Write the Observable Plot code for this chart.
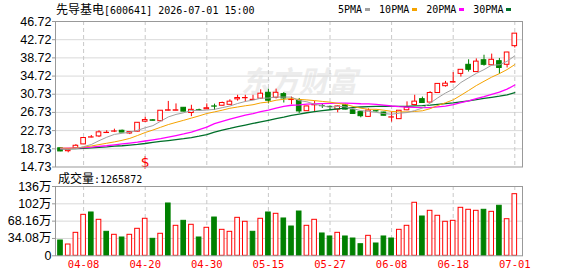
<!DOCTYPE html>
<html><head><meta charset="utf-8">
<script src="https://cdn.jsdelivr.net/npm/d3@7"></script>
<script src="https://cdn.jsdelivr.net/npm/@observablehq/plot@0.6"></script>
<style>
html,body{margin:0;padding:0;background:#fff;}
#wrap{position:relative;width:578px;height:276px;overflow:hidden;background:#fff;}
.abs{position:absolute;white-space:nowrap;}
.cjk{font-family:"Noto Sans CJK SC";font-size:12px;color:#000;}
.mono{font-family:"DejaVu Sans Mono";font-size:10px;color:#000;}
#legend{display:flex;align-items:center;}
#legend .item{display:flex;align-items:center;margin-right:9px;}
#legend .sw{width:5px;height:3px;margin-left:3px;}
svg{overflow:visible;}
</style></head><body>
<div id="wrap">
  <div id="price" class="abs" style="left:0;top:0"></div>
  <div id="vol" class="abs" style="left:0;top:170px"></div>
  <div id="title" class="abs" style="left:56px;top:0px;line-height:17px"></div>
  <div id="legend" class="abs" style="left:338px;top:1px;height:16px"></div>
  <div id="volTitle" class="abs" style="left:58px;top:169px;line-height:17px"></div>
</div>
<script>
// ---------- data ----------
const stockName = "先导基电";
const stockInfo = "[600641] 2026-07-01 15:00";
const volName = "成交量";
const volInfo = ":1265872";

const dates = ["04-02","04-03","04-07","04-08","04-09","04-10","04-13","04-14","04-15","04-16","04-17","04-20","04-21","04-22","04-23","04-24","04-27","04-28","04-29","04-30",
"05-06","05-07","05-08","05-11","05-12","05-13","05-14","05-15","05-18","05-19","05-20","05-21","05-22","05-25","05-26","05-27","05-28","05-29",
"06-01","06-02","06-03","06-04","06-05","06-08","06-09","06-10","06-11","06-12","06-15","06-16","06-17","06-18","06-22","06-23","06-24","06-25","06-26","06-29","06-30","07-01"];

const open  = [18.85,18.2,18.8,19.7,21.2,21.45,22.2,22.5,22.7,22.1,22.5,24.7,25.0,24.8,27.1,27.1,27.75,26.6,27.2,27.4,28.05,28.2,28.4,29.6,29.85,29.45,29.75,31.05,29.95,30.75,29.45,29.35,27.0,28.3,28.15,27.95,27.35,28.3,27.2,26.8,25.75,27.0,26.7,25.6,25.25,27.2,28.35,29.65,28.9,31.0,32.5,33.3,35.2,37.2,35.6,38.2,37.1,38.0,37.2,41.3];
const high  = [18.9,18.5,19.65,21.15,21.65,22.7,22.7,23.05,22.85,22.45,24.5,25.7,25.15,27.15,29.15,28.6,27.8,28.3,27.45,28.6,28.55,29.0,29.5,30.5,30.5,30.5,31.7,31.85,31.85,31.1,30.1,29.8,28.1,29.2,28.5,28.1,28.2,28.5,27.3,26.9,27.5,27.2,26.8,26.8,27.15,29.05,30.5,30.1,31.3,33.05,33.55,35.5,36.15,38.3,38.5,39.3,39.55,38.6,39.95,44.1];
const low   = [18.1,17.85,18.75,19.65,21.15,21.2,22.15,22.3,22.25,21.85,22.45,24.55,24.85,24.75,27.05,27.05,26.85,25.8,26.95,27.35,27.16,28.15,28.35,29.2,29.0,29.4,29.7,28.6,29.7,28.8,28.4,26.5,26.95,26.8,27.6,27.15,26.65,27.3,26.35,25.55,25.7,26.8,25.95,24.6,25.2,27.1,28.3,28.75,28.85,30.95,32.3,33.2,34.5,35.6,35.55,36.9,37.0,35.1,36.5,40.9];
const close = [18.15,18.45,19.4,21.1,21.25,22.35,22.25,22.55,22.3,22.4,24.45,25.05,24.9,27.1,27.2,27.2,26.9,27.3,27.15,27.65,28.0,28.8,29.1,29.9,29.9,29.5,30.85,29.3,31.05,29.8,29.5,26.95,28.05,28.35,28.1,27.9,28.05,27.35,26.4,25.9,27.15,26.95,26.0,25.65,27.1,27.8,29.1,28.8,31.0,33.0,33.05,33.4,36.1,36.1,37.9,37.2,38.3,36.5,39.9,44.05];

const ma5  = [18.7,18.6,18.75,19.2,19.67,20.51,21.27,21.9,22.14,22.37,22.79,23.35,23.82,24.78,25.74,26.29,26.66,27.14,27.15,27.24,27.4,27.78,28.14,28.69,29.14,29.44,29.85,29.89,30.12,30.1,30.1,29.32,29.07,28.53,28.19,27.87,28.09,27.95,27.56,27.12,26.97,26.75,26.48,26.33,26.57,26.7,27.13,27.69,28.76,29.94,30.99,31.85,33.31,34.33,35.31,36.14,37.12,37.2,37.96,39.19];
const ma10 = [18.9,18.85,18.9,19.1,19.35,19.65,19.95,20.25,20.6,21.02,21.65,22.31,22.86,23.46,24.06,24.54,25.0,25.48,25.97,26.49,26.85,27.22,27.64,27.92,28.19,28.42,28.82,29.02,29.41,29.62,29.77,29.59,29.48,29.33,29.15,28.99,28.71,28.51,28.05,27.66,27.42,27.42,27.22,26.95,26.85,26.84,26.94,27.09,27.55,28.26,28.85,29.49,30.5,31.55,32.63,33.57,34.49,35.26,36.15,37.25];
const ma20 = [18.8,18.85,18.9,19.0,19.1,19.25,19.4,19.6,19.8,20.0,20.2,20.45,20.7,20.95,21.3,21.65,22.0,22.4,22.95,23.5,24.25,24.77,25.25,25.69,26.12,26.48,26.91,27.25,27.69,28.06,28.31,28.4,28.56,28.62,28.67,28.7,28.76,28.76,28.73,28.64,28.6,28.5,28.35,28.14,28.0,27.91,27.82,27.8,27.8,27.96,28.13,28.46,28.86,29.25,29.74,30.2,30.71,31.17,31.85,32.75];
const ma30 = [18.7,18.75,18.8,18.85,18.95,19.05,19.15,19.3,19.4,19.55,19.7,19.9,20.15,20.35,20.55,20.75,20.95,21.2,21.5,21.85,22.4,22.85,23.2,23.6,23.95,24.3,24.65,25.0,25.35,25.7,26.09,26.37,26.66,26.9,27.13,27.32,27.51,27.67,27.81,27.92,28.01,28.08,28.11,28.07,28.06,28.08,28.16,28.21,28.34,28.51,28.68,28.83,29.07,29.28,29.54,29.8,30.05,30.29,30.58,31.06];

// volume in 万 shares; volUp: 1 = red (up), 0 = green (down)
const volume = [30.1,22.2,45.2,80.6,85.2,70.8,47.2,41.3,36.0,41.3,53.1,72.8,33.4,43.3,102.9,59.0,68.8,61.0,36.0,55.1,75.3,51.1,47.2,74.7,66.9,47.2,72.8,85.2,82.6,73.4,57.6,87.1,59.0,70.8,43.9,38.0,45.2,38.0,34.0,22.8,39.3,24.2,38.0,34.0,51.1,59.0,104.3,77.3,88.5,78.7,66.9,68.8,94.4,90.5,88.5,90.5,86.5,98.4,72.0,121.2];
const volUp  = [0,1,1,1,0,1,0,1,0,1,1,1,0,1,0,1,0,1,0,1,0,1,1,1,1,0,1,0,1,0,0,0,1,1,0,0,1,0,0,0,1,0,0,0,1,1,1,0,1,1,1,1,1,1,1,0,1,0,1,1];

const priceTicks = [14.73,18.73,22.73,26.73,30.73,34.72,38.72,42.72,46.72];
const volTicks = [0,34.08,68.16,102.24,136.32];
const volTickLabels = ["0","34.08万","68.16万","102万","136万"];
const xTickLabels = ["04-08","04-20","04-30","05-15","05-27","06-08","06-18","07-01"];

const maNames = ["5PMA","10PMA","20PMA","30PMA"];
const maColors = ["#a0a0a0","#f5a300","#ff00ff","#00702a"];
const signals = [{date: "04-20", label: "$"}];
const watermark = "东方财富";

// ---------- build ----------
const RED = "#ff0000", GREEN = "#008000";
const idx = d3.range(dates.length);
const candles = idx.map(i => ({i, o: open[i], h: high[i], l: low[i], c: close[i], up: close[i] >= open[i]}));
const vols = idx.map(i => ({i, v: volume[i], up: volUp[i] === 1}));
const tickIdx = xTickLabels.map(d => dates.indexOf(d));
const maSeries = [ma30, ma20, ma10, ma5];
const maCols = [maColors[3], maColors[2], maColors[1], maColors[0]];
const xDomain = [-0.65, 60];
const hw = 0.3;

const priceChart = Plot.plot({
  width: 578, height: 170,
  marginLeft: 55, marginRight: 56, marginTop: 21, marginBottom: 3.5,
  style: {background: "transparent", overflow: "visible"},
  x: {domain: xDomain, axis: null, label: null},
  y: {domain: [14.73, 46.72], axis: null, label: null},
  color: {type: "identity"},
  marks: [
    Plot.text([watermark], {frameAnchor: "middle", dx: 10, dy: -12, text: d => d, fontSize: 29, fontWeight: "bold", fontStyle: "italic", fill: "#ececec", fontFamily: "Noto Sans CJK SC"}),
    Plot.gridY(priceTicks.slice(1, -1), {stroke: "#d9d9d9", strokeOpacity: 1}),
    Plot.ruleX(tickIdx, {stroke: "#c8c8c8", strokeDasharray: "4,3"}),
    Plot.ruleX(candles, {x: "i", y1: "l", y2: "h", stroke: d => d.up ? RED : GREEN}),
    Plot.rect(candles, {x1: d => d.i - hw, x2: d => d.i + hw, y1: "o", y2: "c", fill: d => d.up ? "#fff" : GREEN, stroke: d => d.up ? RED : GREEN, strokeWidth: 1}),
    ...maSeries.map((s, k) => Plot.line(idx, {x: i => i, y: i => s[i], stroke: maCols[k], strokeWidth: k < 2 ? 1.3 : 1})),
    Plot.text(signals, {x: d => dates.indexOf(d.date), text: "label", frameAnchor: "bottom", dy: 0, fill: RED, fontSize: 14, fontFamily: "DejaVu Sans"}),
    Plot.frame({stroke: "#999"}),
    Plot.axisY(priceTicks, {anchor: "left", label: null, tickSize: 3, tickPadding: 1, stroke: "#999", fill: "#000", tickFormat: d => d.toFixed(2), fontSize: 12.5, fontFamily: "Liberation Sans"})
  ]
});
document.getElementById("price").appendChild(priceChart);

const volChart = Plot.plot({
  width: 578, height: 106,
  marginLeft: 55, marginRight: 56, marginTop: 16, marginBottom: 20.7,
  style: {background: "transparent", overflow: "visible"},
  x: {domain: xDomain, axis: null, label: null},
  y: {domain: [0, 136.32], axis: null, label: null},
  color: {type: "identity"},
  marks: [
    Plot.gridY(volTicks.slice(1, -1), {stroke: "#d9d9d9", strokeOpacity: 1}),
    Plot.ruleX(tickIdx, {stroke: "#c8c8c8", strokeDasharray: "4,3"}),
    Plot.rect(vols, {x1: d => d.i - hw, x2: d => d.i + hw, y1: 0, y2: "v", fill: d => d.up ? "#fff" : GREEN, stroke: d => d.up ? RED : GREEN, strokeWidth: 1}),
    Plot.frame({stroke: "#999"}),
    Plot.axisY(volTicks, {anchor: "left", label: null, tickSize: 3, tickPadding: 1, stroke: "#999", fill: "#000", tickFormat: d => volTickLabels[volTicks.indexOf(d)], fontSize: 12.5, fontFamily: "Liberation Sans, Noto Sans CJK SC"}),
    Plot.axisX(tickIdx, {anchor: "bottom", label: null, tickSize: 0, tickPadding: 5, fill: RED, tickFormat: i => dates[i], fontSize: 10.5, fontFamily: "DejaVu Sans Mono"})
  ]
});
document.getElementById("vol").appendChild(volChart);

document.getElementById("title").innerHTML = `<span class="cjk">${stockName}</span><span class="mono">${stockInfo}</span>`;
document.getElementById("volTitle").innerHTML = `<span class="cjk">${volName}</span><span class="mono">${volInfo}</span>`;
const lg = document.getElementById("legend");
maNames.forEach((n, k) => {
  const it = document.createElement("div");
  it.className = "item";
  it.innerHTML = `<span class="mono">${n}</span><span class="sw" style="background:${maColors[k]}"></span>`;
  lg.appendChild(it);
});
</script>
</body></html>
